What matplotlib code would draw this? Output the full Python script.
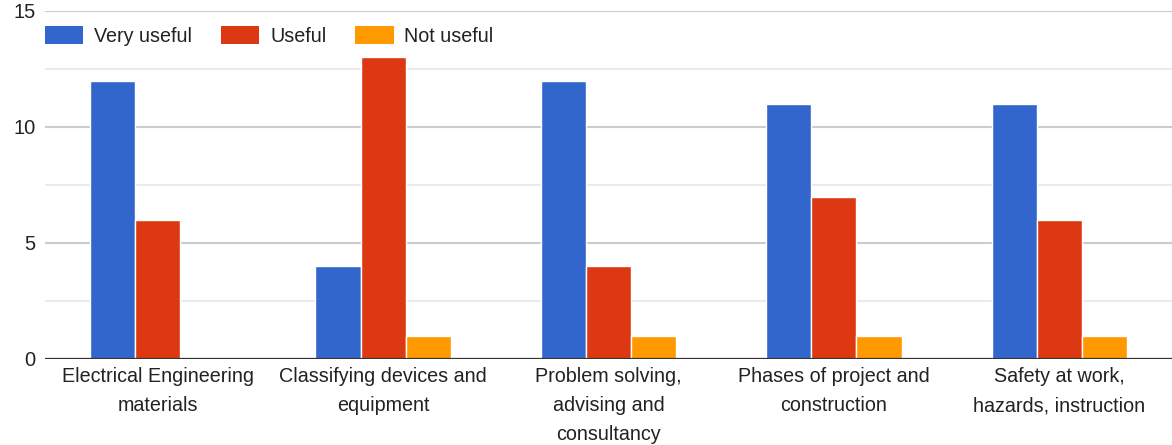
import matplotlib.pyplot as plt
import numpy as np
from matplotlib.patches import Patch

categories = [
    "Electrical Engineering\nmaterials",
    "Classifying devices and\nequipment",
    "Problem solving,\nadvising and\nconsultancy",
    "Phases of project and\nconstruction",
    "Safety at work,\nhazards, instruction",
]
series_names = ["Very useful", "Useful", "Not useful"]
very_useful = [12, 4, 12, 11, 11]
useful = [6, 13, 4, 7, 6]
not_useful = [0, 1, 1, 1, 1]

colors = ["#3366cc", "#dc3912", "#ff9900"]
text_color = "#222222"

plt.rcParams['font.family'] = ['Liberation Sans', 'DejaVu Sans']

fig = plt.figure(figsize=(11.72, 4.45), dpi=100)
ax = fig.add_axes([45 / 1172, 1 - 359 / 445, 1 - 45 / 1172, 348 / 445])

x = np.arange(len(categories))
bar_w = 0.2
for i, (vals, col) in enumerate(zip([very_useful, useful, not_useful], colors)):
    ax.bar(x + (i - 1) * bar_w, vals, width=bar_w, color=col,
           edgecolor="white", linewidth=1, zorder=3)

ax.set_xlim(-0.5, len(categories) - 0.5)
ax.set_ylim(0, 15)
ax.set_yticks([0, 5, 10, 15])
ax.set_yticks([2.5, 7.5, 12.5], minor=True)
ax.grid(axis="y", which="major", color="#cccccc", linewidth=1.5, zorder=0)
ax.grid(axis="y", which="minor", color="#ebebeb", linewidth=1.5, zorder=0)
ax.axhline(0, color="#333333", linewidth=1.6, zorder=4)

ax.set_xticks(x)
ax.set_xticklabels(categories, fontsize=14.2, color=text_color, linespacing=1.65)
ax.tick_params(axis="x", length=0, pad=6)
ax.tick_params(axis="y", which="both", length=0, pad=7, labelsize=14.5,
               labelcolor=text_color)
for s in ax.spines.values():
    s.set_visible(False)

handles = [Patch(facecolor=c, edgecolor="none") for c in colors]
fig.legend(handles, series_names, loc="center left",
           bbox_to_anchor=(45 / 1172, 1 - 36 / 445), ncol=3, frameon=False,
           fontsize=14.2, handlelength=1.95, handleheight=1.05,
           handletextpad=0.55, columnspacing=1.45, borderpad=0,
           borderaxespad=0, labelcolor=text_color)

fig.savefig("out.png", dpi=100)
